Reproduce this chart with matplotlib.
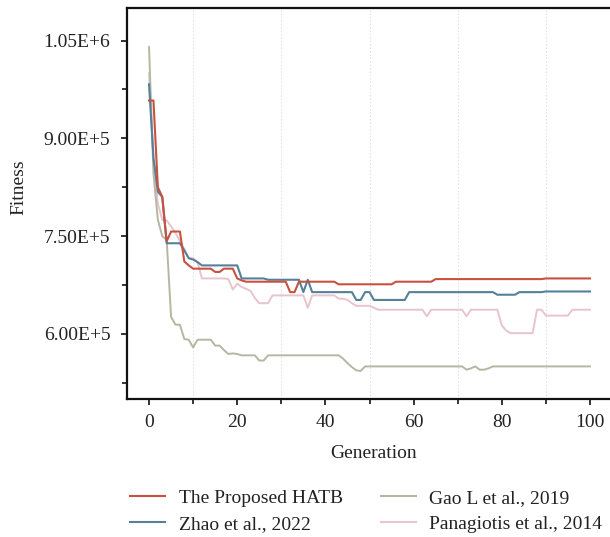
import numpy as np
import matplotlib
matplotlib.use("Agg")
import matplotlib.pyplot as plt
from matplotlib.ticker import MultipleLocator
from matplotlib.lines import Line2D

plt.rcParams['font.family'] = ['Liberation Serif', 'DejaVu Serif']

fontsize = 14

generation = list(range(0, 101))

# fitness per generation
hatb = [958000, 958000, 825000, 810000, 742000, 757000, 757000, 757000, 711000, 705000,
        700000, 700000, 700000, 700000, 700000, 695000, 695000, 700000, 700000, 700000,
        685000, 682000, 680000, 680000, 680000, 680000, 680000, 680000, 680000, 680000,
        680000, 680000, 664000, 664000, 680000, 680000, 680000, 680000, 680000, 680000,
        680000, 680000, 680000, 676000, 676000, 676000, 676000, 676000, 676000, 676000,
        676000, 676000, 676000, 676000, 676000, 676000, 680000, 680000, 680000, 680000,
        680000, 680000, 680000, 680000, 680000, 684000, 684000, 684000, 684000, 684000,
        684000, 684000, 684000, 684000, 684000, 684000, 684000, 684000, 684000, 684000,
        684000, 684000, 684000, 684000, 684000, 684000, 684000, 684000, 684000, 684000,
        685000, 685000, 685000, 685000, 685000, 685000, 685000, 685000, 685000, 685000,
        685000]

zhao = [983000, 870000, 818000, 810000, 739000, 739000, 739000, 739000, 728000, 716000,
        714000, 710000, 705000, 705000, 705000, 705000, 705000, 705000, 705000, 705000,
        705000, 685000, 685000, 685000, 685000, 685000, 685000, 683000, 683000, 683000,
        683000, 683000, 683000, 683000, 683000, 664000, 683000, 664000, 664000, 664000,
        664000, 664000, 664000, 664000, 664000, 664000, 664000, 652000, 652000, 664000,
        664000, 652000, 652000, 652000, 652000, 652000, 652000, 652000, 652000, 664000,
        664000, 664000, 664000, 664000, 664000, 664000, 664000, 664000, 664000, 664000,
        664000, 664000, 664000, 664000, 664000, 664000, 664000, 664000, 664000, 660000,
        660000, 660000, 660000, 660000, 664000, 664000, 664000, 664000, 664000, 664000,
        665000, 665000, 665000, 665000, 665000, 665000, 665000, 665000, 665000, 665000,
        665000]

gao = [1040000, 846000, 775000, 750000, 744000, 626000, 614000, 614000, 592000, 591000,
       579000, 591000, 591000, 591000, 591000, 582000, 582000, 575000, 569000, 570000,
       569000, 567000, 567000, 567000, 567000, 559000, 559000, 567000, 567000, 567000,
       567000, 567000, 567000, 567000, 567000, 567000, 567000, 567000, 567000, 567000,
       567000, 567000, 567000, 567000, 562000, 555000, 549000, 544000, 543000, 550000,
       550000, 550000, 550000, 550000, 550000, 550000, 550000, 550000, 550000, 550000,
       550000, 550000, 550000, 550000, 550000, 550000, 550000, 550000, 550000, 550000,
       550000, 550000, 545000, 547000, 550000, 545000, 545000, 547000, 550000, 550000,
       550000, 550000, 550000, 550000, 550000, 550000, 550000, 550000, 550000, 550000,
       550000, 550000, 550000, 550000, 550000, 550000, 550000, 550000, 550000, 550000,
       550000]

panagiotis = [1000000, 870000, 800000, 775000, 774000, 765000, 755000, 742000, 730000, 716000,
              716000, 710000, 685000, 685000, 685000, 685000, 685000, 685000, 684000, 668000,
              677000, 672000, 669000, 666000, 655000, 647000, 647000, 647000, 659000, 659000,
              659000, 659000, 659000, 659000, 659000, 659000, 640000, 659000, 659000, 659000,
              659000, 659000, 659000, 654000, 654000, 652000, 647000, 643000, 643000, 643000,
              643000, 640000, 637000, 637000, 637000, 637000, 637000, 637000, 637000, 637000,
              637000, 637000, 637000, 627000, 637000, 637000, 637000, 637000, 637000, 637000,
              637000, 637000, 627000, 637000, 637000, 637000, 637000, 637000, 637000, 637000,
              613000, 605000, 601000, 601000, 601000, 601000, 601000, 601000, 637000, 637000,
              628000, 628000, 628000, 628000, 628000, 628000, 637000, 637000, 637000, 637000,
              637000]

labels = ["The Proposed HATB", "Zhao et al., 2022", "Gao L et al., 2019", "Panagiotis et al., 2014"]
colors = ['#c8513f', '#56809a', '#b4b7a2', '#e8c4cd']
yticks = [600000, 750000, 900000, 1050000]
ytick_labels = ["6.00E+5", "7.50E+5", "9.00E+5", "1.05E+6"]

fig = plt.figure(figsize=(6.1, 5.37), dpi=100)
ax = fig.add_axes([127 / 610, 138 / 537, 485 / 610, 391 / 537])

# draw the paler series first so the red one sits on top
ax.plot(generation, panagiotis, color=colors[3], lw=1.4)
ax.plot(generation, gao, color=colors[2], lw=1.4)
ax.plot(generation, zhao, color=colors[1], lw=1.5)
ax.plot(generation, hatb, color=colors[0], lw=1.5)

ax.set_xlim(-5, 105)
ax.set_ylim(500000, 1100000)

ax.xaxis.set_major_locator(MultipleLocator(20))
ax.xaxis.set_minor_locator(MultipleLocator(10))
ax.set_yticks(yticks)
ax.set_yticklabels(ytick_labels)
ax.yaxis.set_minor_locator(MultipleLocator(75000))

ax.tick_params(axis='both', which='major', direction='out', length=4.5, width=1.3,
               labelsize=fontsize, colors='#222222')
ax.tick_params(axis='both', which='minor', direction='out', length=3.5, width=1.1)
ax.tick_params(axis='x', pad=6)
ax.tick_params(axis='y', pad=7.5)

# faint dotted lines only at the minor x ticks
ax.grid(True, which='minor', axis='x', color='#dddddd', linestyle=(0, (1.5, 2)), lw=0.7)

for side in ['left', 'bottom', 'top', 'right']:
    ax.spines[side].set_linewidth(1.6)
    ax.spines[side].set_color('#111111')

ax.set_xlabel("Generation", fontsize=fontsize, color='#222222')
ax.set_ylabel("Fitness", fontsize=fontsize, color='#222222')
ax.xaxis.set_label_coords(0.509, -0.118)
ax.yaxis.set_label_coords(-0.206, 0.542)

handles = [Line2D([], [], color=c, lw=1.5) for c in colors]
fig.legend(handles, labels, loc='upper left', bbox_to_anchor=(130 / 610, 1 - 489 / 537),
           ncol=2, frameon=False, fontsize=fontsize, handlelength=1.8, handletextpad=0.7,
           columnspacing=1.95, labelspacing=0.45, borderpad=0, borderaxespad=0,
           labelcolor='#222222')

fig.savefig("out.png", dpi=100)
